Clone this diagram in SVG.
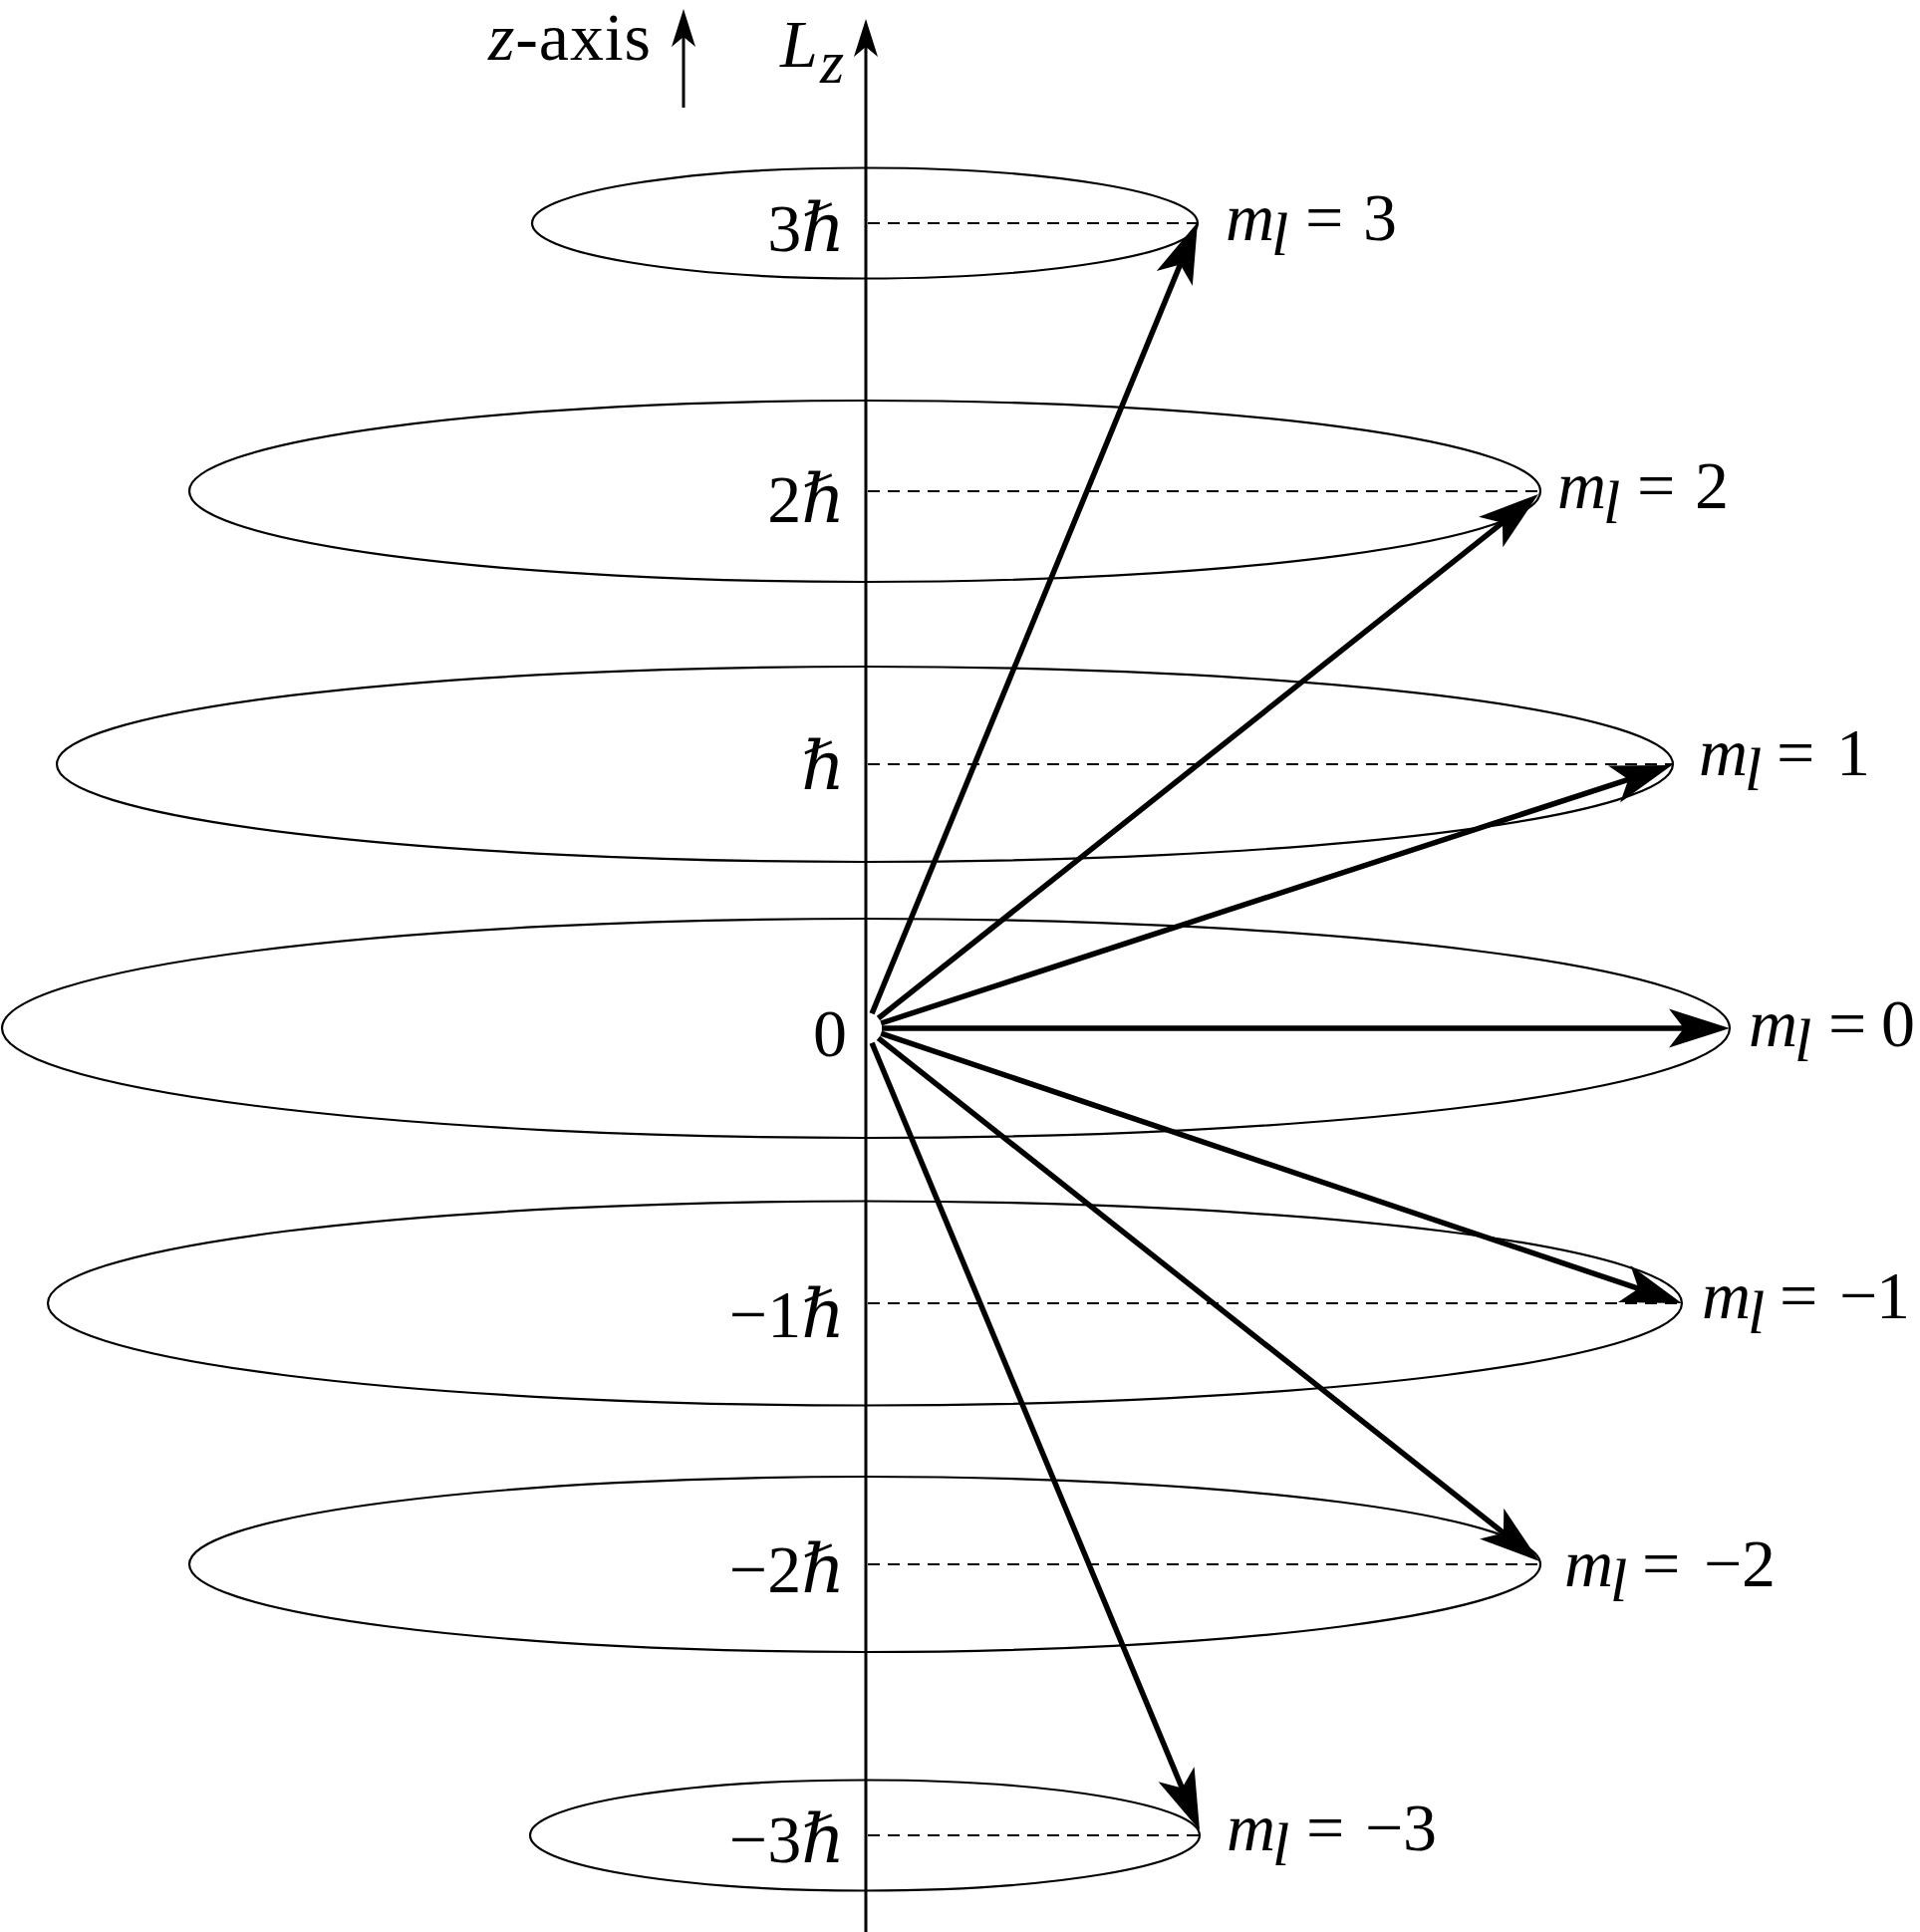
<svg xmlns="http://www.w3.org/2000/svg" width="1927" height="1939" viewBox="0 0 1927 1939">
<style>
.ell{fill:none;stroke:#000;stroke-width:2.2}
.dash{fill:none;stroke:#000;stroke-width:1.8;stroke-dasharray:12 8}
.vec{fill:none;stroke:#000;stroke-width:5.5}
.axis{fill:none;stroke:#000;stroke-width:3}
text{font-family:"Liberation Serif","Times New Roman",Tinos,Times,"Nimbus Roman","DejaVu Serif",serif;font-size:68px;fill:#000}
.it{font-style:italic}
.sub{font-style:italic;font-size:62px}
</style>
<defs>
<marker id="big" markerUnits="userSpaceOnUse" markerWidth="100" markerHeight="60" viewBox="-40 -30 100 60" refX="0" refY="0" orient="auto" overflow="visible">
<path d="M30,0 L-31,-19.5 L-16,0 L-31,19.5 Z" fill="#000"/>
</marker>
<marker id="small" markerUnits="userSpaceOnUse" markerWidth="60" markerHeight="40" viewBox="-30 -20 60 40" refX="0" refY="0" orient="auto" overflow="visible">
<path d="M16,0 L-22,-12 L-12,0 L-22,12 Z" fill="#000"/>
</marker>
</defs>

<g id="ellipses">
<ellipse id="ring-3" class="ell" cx="868" cy="224" rx="334" ry="55.5"/>
<ellipse id="ring-2" class="ell" cx="868" cy="493" rx="678" ry="91"/>
<ellipse id="ring-1" class="ell" cx="868" cy="767" rx="811" ry="98"/>
<ellipse id="ring0" class="ell" cx="869" cy="1032" rx="867" ry="110"/>
<ellipse id="ring-m1" class="ell" cx="868" cy="1308" rx="820" ry="102.5"/>
<ellipse id="ring-m2" class="ell" cx="868" cy="1570" rx="678" ry="88"/>
<ellipse id="ring-m3" class="ell" cx="868" cy="1842" rx="336" ry="55.5"/>
</g>

<g id="levels">
<line class="dash" x1="871" y1="224" x2="1202" y2="224"/>
<line class="dash" x1="871" y1="493" x2="1546" y2="493"/>
<line class="dash" x1="871" y1="767" x2="1679" y2="767"/>
<line class="dash" x1="871" y1="1308" x2="1688" y2="1308"/>
<line class="dash" x1="871" y1="1570" x2="1546" y2="1570"/>
<line class="dash" x1="871" y1="1842" x2="1204" y2="1842"/>
</g>

<g id="axes">
<line class="axis" x1="869" y1="1939" x2="869" y2="35" marker-end="url(#small)"/>
<line class="axis" x1="686" y1="108" x2="686" y2="25" marker-end="url(#small)"/>
</g>

<g id="connectors">
<line class="vec" x1="875.1" y1="1017.2" x2="1190.6" y2="250.7" marker-end="url(#big)"/>
<line class="vec" x1="881.5" y1="1022" x2="1520.5" y2="514.7" marker-end="url(#big)"/>
<line class="vec" x1="884.2" y1="1027" x2="1649.5" y2="777.3" marker-end="url(#big)"/>
<line class="vec" x1="885" y1="1032" x2="1706" y2="1032" marker-end="url(#big)"/>
<line class="vec" x1="884.2" y1="1037.1" x2="1659.6" y2="1298.4" marker-end="url(#big)"/>
<line class="vec" x1="881.5" y1="1041.9" x2="1521.5" y2="1548.4" marker-end="url(#big)"/>
<line class="vec" x1="875.1" y1="1046.8" x2="1192.5" y2="1809.3" marker-end="url(#big)"/>
</g>

<g id="axis-labels">
<text x="490" y="60" font-size="62" textLength="163" lengthAdjust="spacing"><tspan class="it">z</tspan>-axis</text>
<text x="783" y="67"><tspan class="it">L</tspan><tspan class="sub" font-size="54" x="823" y="83">z</tspan></text>
</g>

<g id="left-labels">
<text x="848" y="252" text-anchor="end">3<tspan class="it">ℏ</tspan></text>
<text x="848" y="524" text-anchor="end">2<tspan class="it">ℏ</tspan></text>
<text x="848" y="792" text-anchor="end"><tspan class="it">ℏ</tspan></text>
<text x="850" y="1060" text-anchor="end">0</text>
<text x="848" y="1342" text-anchor="end">−1<tspan class="it">ℏ</tspan></text>
<text x="848" y="1598" text-anchor="end">−2<tspan class="it">ℏ</tspan></text>
<text x="848" y="1869" text-anchor="end">−3<tspan class="it">ℏ</tspan></text>
</g>

<g id="m3"><text y="241"><tspan class="it" x="1230">m</tspan><tspan class="sub" x="1276" y="256">l</tspan><tspan x="1310" y="241">=</tspan><tspan x="1368">3</tspan></text></g>
<g id="m2"><text y="510"><tspan class="it" x="1563">m</tspan><tspan class="sub" x="1609" y="525">l</tspan><tspan x="1643" y="510">=</tspan><tspan x="1701">2</tspan></text></g>
<g id="m1"><text y="778"><tspan class="it" x="1705">m</tspan><tspan class="sub" x="1751" y="793">l</tspan><tspan x="1783" y="778">=</tspan><tspan x="1843">1</tspan></text></g>
<g id="m0"><text y="1050"><tspan class="it" x="1755">m</tspan><tspan class="sub" x="1801" y="1065">l</tspan><tspan x="1835" y="1050">=</tspan><tspan x="1888">0</tspan></text></g>
<g id="mm1"><text y="1323"><tspan class="it" x="1708">m</tspan><tspan class="sub" x="1754" y="1338">l</tspan><tspan x="1786" y="1323">=</tspan><tspan x="1846">−</tspan><tspan x="1883">1</tspan></text></g>
<g id="mm2"><text y="1592"><tspan class="it" x="1570">m</tspan><tspan class="sub" x="1616" y="1607">l</tspan><tspan x="1648" y="1592">=</tspan><tspan x="1710">−</tspan><tspan x="1748">2</tspan></text></g>
<g id="mm3"><text y="1857"><tspan class="it" x="1231">m</tspan><tspan class="sub" x="1277" y="1872">l</tspan><tspan x="1311" y="1857">=</tspan><tspan x="1370">−</tspan><tspan x="1408">3</tspan></text></g>
</svg>
